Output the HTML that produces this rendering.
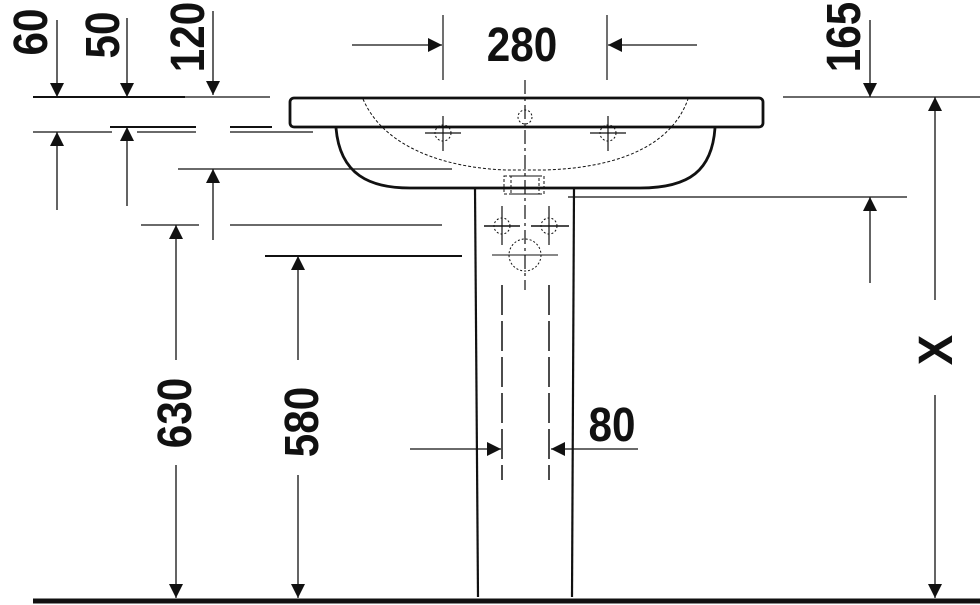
<!DOCTYPE html>
<html><head><style>
html,body{margin:0;padding:0;background:#fff;}
svg{display:block;}
text{font-family:"Liberation Sans",sans-serif;font-weight:bold;font-size:48px;fill:#111;}
</style></head><body>
<svg width="980" height="605" viewBox="0 0 980 605" xmlns="http://www.w3.org/2000/svg">
<defs>
<marker id="a" viewBox="0 0 10 10" refX="10" refY="5" markerWidth="14" markerHeight="30" markerUnits="userSpaceOnUse" orient="auto"><path d="M0,0 L10,5 L0,10 z" fill="#111"/></marker>
</defs>
<g stroke="#111" fill="none">
<line x1="33" y1="97" x2="270" y2="97" stroke-width="1.2"/>
<line x1="33" y1="97" x2="185" y2="97" stroke-width="2"/>
<line x1="33" y1="132" x2="112" y2="132" stroke-width="1.2"/>
<line x1="110" y1="127" x2="196" y2="127" stroke-width="2"/>
<line x1="137" y1="132" x2="196" y2="132" stroke-width="1.2"/>
<line x1="230" y1="127" x2="272" y2="127" stroke-width="2"/>
<line x1="230" y1="132" x2="313" y2="132" stroke-width="1.2"/>
<line x1="178" y1="169" x2="452" y2="169" stroke-width="1.2"/>
<line x1="141" y1="225" x2="199" y2="225" stroke-width="1.2"/>
<line x1="230" y1="225" x2="442" y2="225" stroke-width="1.2"/>
<line x1="265" y1="256" x2="462" y2="256" stroke-width="2"/>
<line x1="783" y1="97" x2="980" y2="97" stroke-width="1.2"/>
<line x1="568" y1="197" x2="907" y2="197" stroke-width="1.2"/>
<g stroke-width="1.3">
<line x1="57" y1="20" x2="57" y2="97" marker-end="url(#a)"/>
<line x1="57" y1="210" x2="57" y2="132" marker-end="url(#a)"/>
<line x1="127" y1="18" x2="127" y2="97" marker-end="url(#a)"/>
<line x1="127" y1="206" x2="127" y2="127" marker-end="url(#a)"/>
<line x1="213" y1="11" x2="213" y2="95" marker-end="url(#a)"/>
<line x1="213" y1="240" x2="213" y2="169" marker-end="url(#a)"/>
<line x1="176" y1="360" x2="176" y2="225" marker-end="url(#a)"/>
<line x1="176" y1="465" x2="176" y2="598" marker-end="url(#a)"/>
<line x1="298" y1="360" x2="298" y2="256" marker-end="url(#a)"/>
<line x1="298" y1="475" x2="298" y2="598" marker-end="url(#a)"/>
<line x1="935" y1="300" x2="935" y2="97" marker-end="url(#a)"/>
<line x1="935" y1="395" x2="935" y2="598" marker-end="url(#a)"/>
<line x1="870" y1="20" x2="870" y2="97" marker-end="url(#a)"/>
<line x1="870" y1="283" x2="870" y2="197" marker-end="url(#a)"/>
<line x1="352" y1="45" x2="442" y2="45" marker-end="url(#a)"/>
<line x1="697" y1="45" x2="608" y2="45" marker-end="url(#a)"/>
<line x1="410" y1="449" x2="501" y2="449" marker-end="url(#a)"/>
<line x1="638" y1="449" x2="551" y2="449" marker-end="url(#a)"/>
</g>
<line x1="443" y1="15" x2="443" y2="80" stroke-width="1.2"/>
<line x1="607" y1="15" x2="607" y2="80" stroke-width="1.2"/>
<rect x="290" y="98" width="473" height="29" rx="4" stroke-width="2.8"/>
<path d="M336,128 C340,175 370,188 410,188 L640,188 C690,188 712,170 715,128" stroke-width="2.8"/>
<path d="M363,99 C385,150 450,168 506,170 L545,170 C610,168 670,150 688,99" stroke-width="1" stroke-dasharray="3,2"/>
<rect x="504" y="176" width="40" height="18" stroke-width="1" stroke-dasharray="3,2"/>
<rect x="511" y="176" width="28" height="18" stroke-width="1" stroke-dasharray="3,2"/>
<line x1="525" y1="80" x2="525" y2="290" stroke-width="1.2" stroke-dasharray="14,4,3,4"/>
<circle cx="525" cy="117" r="7" stroke-width="1" stroke-dasharray="2,2"/>
<circle cx="443" cy="133" r="8" stroke-width="1" stroke-dasharray="2,2"/>
<line x1="425" y1="133" x2="461" y2="133" stroke-width="1.2"/>
<line x1="443" y1="116" x2="443" y2="151" stroke-width="1.2"/>
<circle cx="608" cy="133" r="8" stroke-width="1" stroke-dasharray="2,2"/>
<line x1="590" y1="133" x2="626" y2="133" stroke-width="1.2"/>
<line x1="608" y1="116" x2="608" y2="151" stroke-width="1.2"/>
<line x1="475" y1="188" x2="478" y2="597" stroke-width="2.2"/>
<line x1="574" y1="188" x2="572" y2="597" stroke-width="2.2"/>
<line x1="502" y1="285" x2="502" y2="480" stroke-width="1.5" stroke-dasharray="30,6"/>
<line x1="549" y1="285" x2="549" y2="480" stroke-width="1.5" stroke-dasharray="30,6"/>
<circle cx="502" cy="226" r="8" stroke-width="1" stroke-dasharray="2,2"/>
<line x1="484" y1="226" x2="520" y2="226" stroke-width="1.5"/>
<line x1="502" y1="206" x2="502" y2="245" stroke-width="1.2"/>
<circle cx="549" cy="226" r="8" stroke-width="1" stroke-dasharray="2,2"/>
<line x1="531" y1="226" x2="569" y2="226" stroke-width="1.5"/>
<line x1="549" y1="206" x2="549" y2="245" stroke-width="1.2"/>
<circle cx="525" cy="255" r="16" stroke-width="1" stroke-dasharray="2,2"/>
<line x1="492" y1="255" x2="558" y2="255" stroke-width="1"/>
<line x1="33" y1="601" x2="980" y2="601" stroke-width="5"/>
</g>
<g>
<text transform="translate(522,61) scale(0.88,1)" text-anchor="middle">280</text>
<text transform="translate(612,441) scale(0.88,1)" text-anchor="middle">80</text>
<text transform="translate(952,350) rotate(-90) scale(0.95,1)" text-anchor="middle">X</text>
<text transform="translate(47,32) rotate(-90) scale(0.88,1)" text-anchor="middle">60</text>
<text transform="translate(119,35) rotate(-90) scale(0.88,1)" text-anchor="middle">50</text>
<text transform="translate(204,37) rotate(-90) scale(0.88,1)" text-anchor="middle">120</text>
<text transform="translate(860,37) rotate(-90) scale(0.88,1)" text-anchor="middle">165</text>
<text transform="translate(191,413) rotate(-90) scale(0.88,1)" text-anchor="middle">630</text>
<text transform="translate(318,422) rotate(-90) scale(0.88,1)" text-anchor="middle">580</text>
</g>
</svg>
</body></html>
